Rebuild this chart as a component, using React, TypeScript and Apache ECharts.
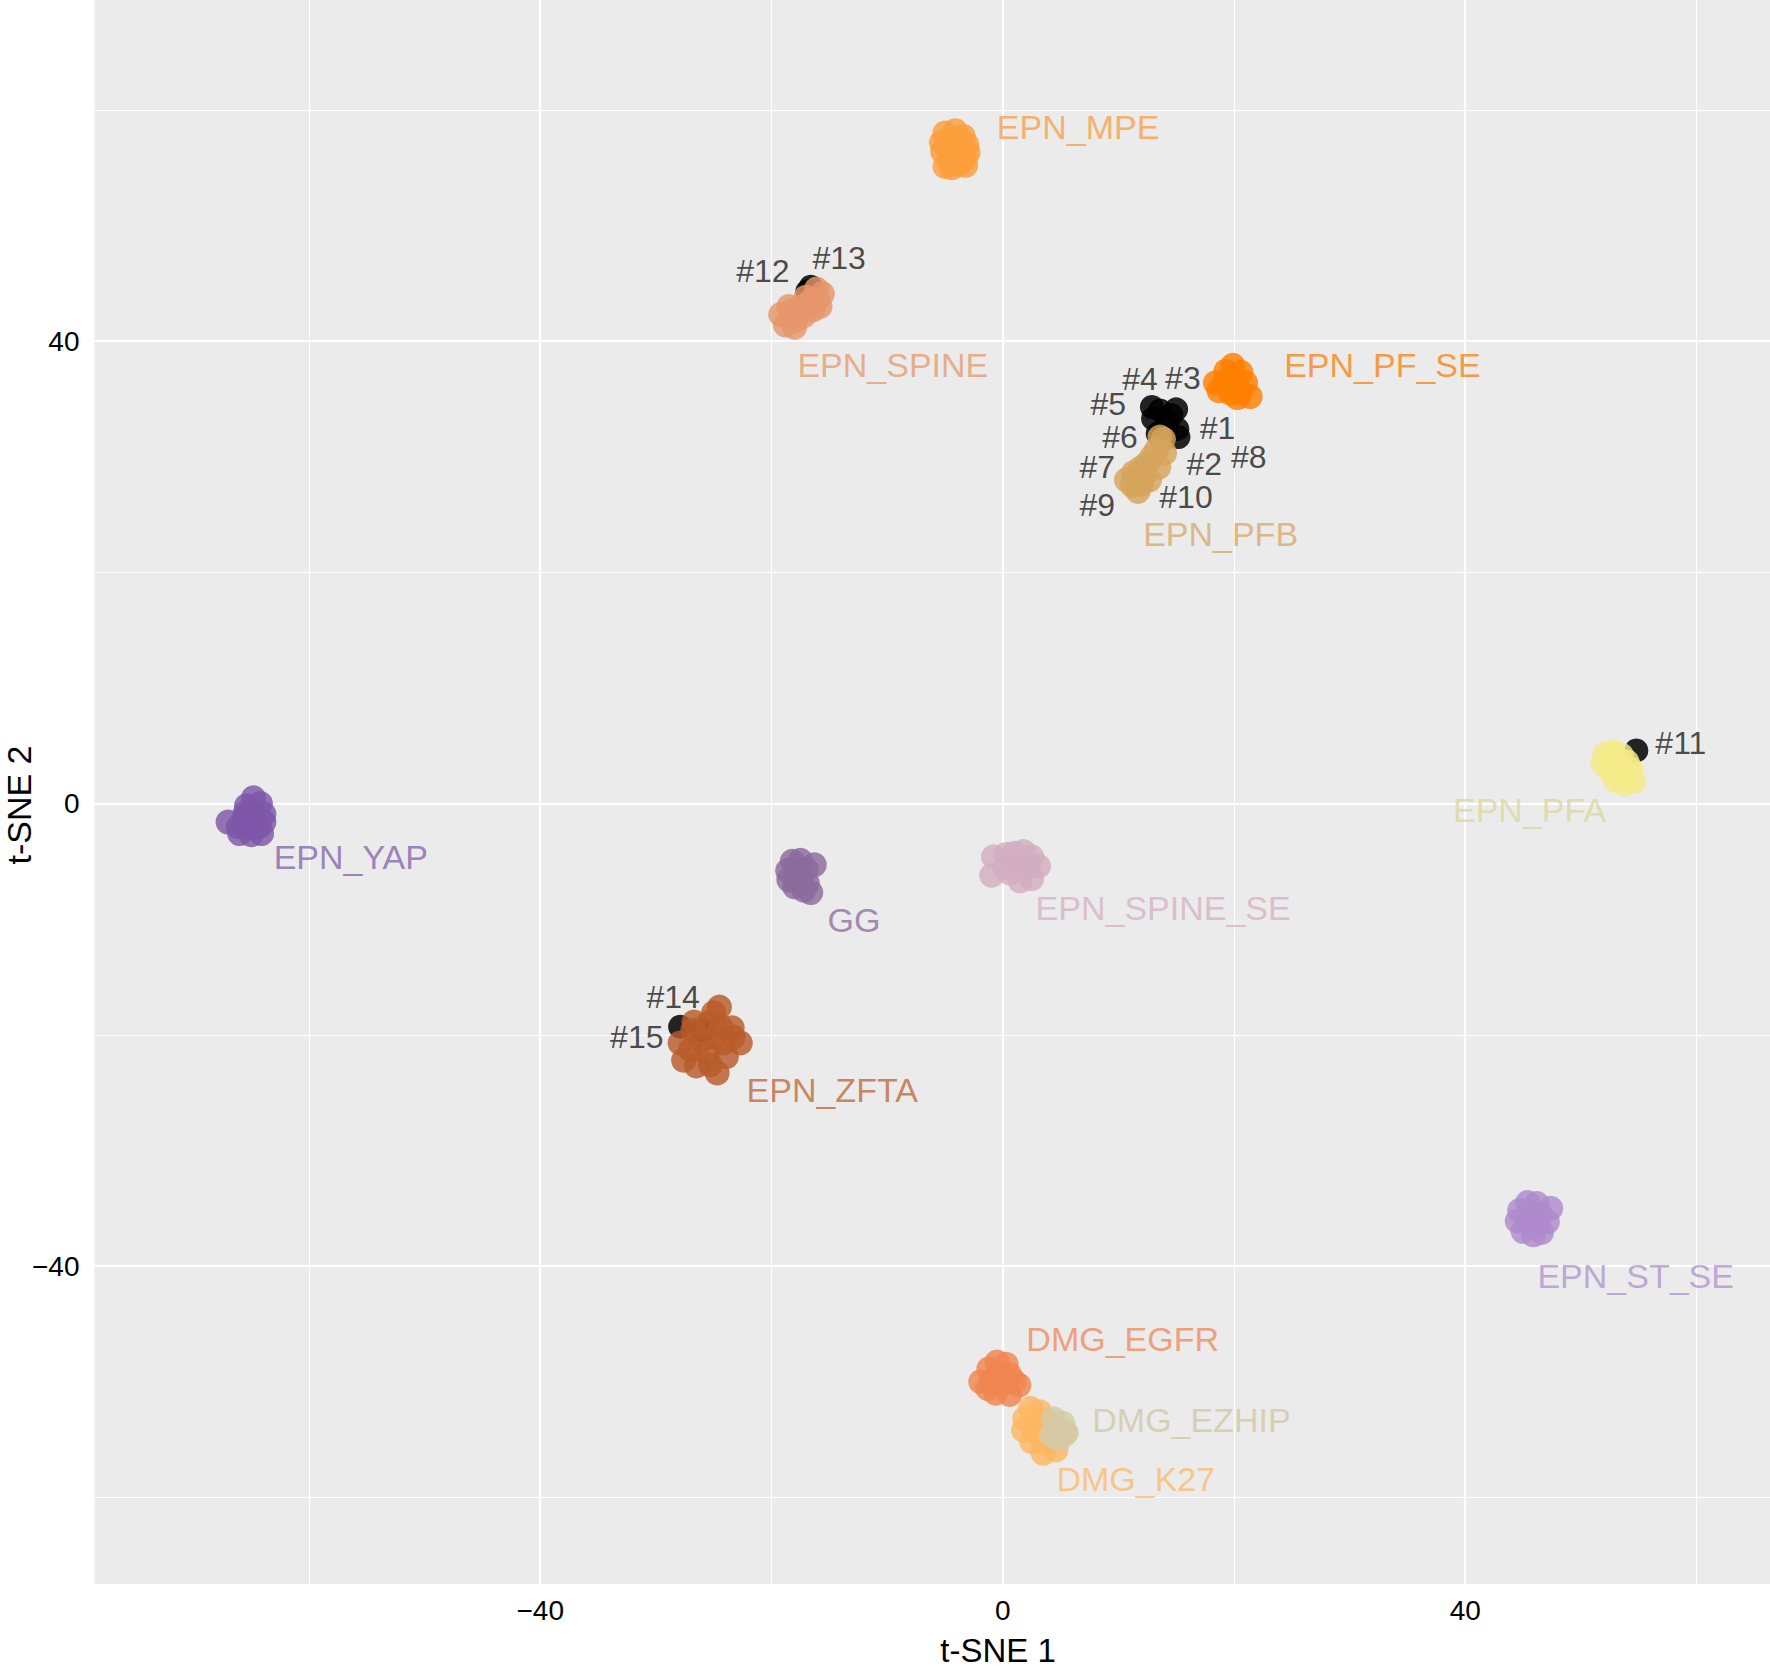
import React, { useEffect, useRef } from "react";
import * as echarts from "echarts";

// ---- axis ticks / gridlines ----
const xMajorTicks = [-40, 0, 40];
const xMinorTicks = [-60, -20, 20, 60];
const yMajorTicks = [-40, 0, 40];
const yMinorTicks = [-60, -20, 20, 60];
const xTitle = "t-SNE 1";
const yTitle = "t-SNE 2";

// ---- cluster samples (t-SNE 1, t-SNE 2) ----
const epnMpe = [
  [-5.0, 58.0], [-4.1, 58.2], [-3.4, 57.7], [-5.3, 57.2], [-4.4, 57.3], [-3.1, 57.0],
  [-3.0, 56.3], [-5.2, 56.4], [-4.0, 56.5], [-3.3, 55.8], [-4.6, 55.8], [-5.0, 55.1],
  [-3.8, 55.3], [-4.4, 55.0], [-3.2, 55.2], [-4.3, 56.1], [-3.7, 57.0],
];
const epnSpine = [
  [-19.2, 42.3], [-18.8, 41.4], [-18.3, 42.6], [-17.9, 41.8], [-17.6, 42.9], [-17.2, 42.2],
  [-16.8, 43.2], [-16.4, 42.7], [-16.0, 43.6], [-15.6, 44.1], [-15.8, 43.0], [-17.0, 43.8],
  [-18.5, 43.0], [-16.1, 44.5], [-18.0, 41.2], [-17.5, 42.5], [-16.6, 43.5],
];
const epnPfSe = [
  [19.9, 37.9], [19.3, 37.4], [20.6, 37.3], [18.4, 36.4], [19.2, 36.5], [20.2, 36.6],
  [21.0, 36.4], [18.7, 35.7], [19.7, 35.5], [20.6, 35.6], [21.4, 35.2], [20.3, 35.1],
  [19.9, 36.0],
];
const epnPfb = [
  [13.6, 31.7], [14.0, 30.3], [13.3, 30.6], [12.45, 29.4], [11.3, 28.6], [10.7, 28.0],
  [11.7, 27.0], [12.7, 28.0], [13.5, 29.1], [13.9, 31.5], [12.0, 27.6], [11.9, 29.0],
  [12.9, 30.0], [11.2, 27.5], [12.3, 28.5],
];
const epnPfa = [
  [52.1, 4.3], [52.8, 4.5], [53.5, 4.2], [51.9, 3.5], [52.7, 3.6], [53.4, 3.4], [54.0, 3.6],
  [52.5, 2.8], [53.3, 2.6], [54.1, 2.5], [54.6, 1.9], [53.8, 1.7], [53.0, 2.0], [54.3, 3.0],
];
const epnYap = [
  [-64.8, 0.5], [-64.2, 0.0], [-65.4, -0.2], [-63.9, -0.9], [-64.7, -1.0], [-65.6, -1.2],
  [-67.0, -1.6], [-66.1, -2.0], [-65.2, -2.1], [-64.3, -2.0], [-63.9, -1.6], [-65.0, -2.7],
  [-64.1, -2.6], [-66.0, -2.6], [-65.5, -0.8], [-65.0, -1.5],
];
const gg = [
  [-18.2, -5.0], [-17.5, -4.9], [-16.3, -5.3], [-18.6, -5.8], [-17.8, -5.9], [-17.0, -5.7],
  [-18.5, -6.6], [-17.6, -6.8], [-16.9, -6.9], [-16.6, -7.7], [-17.2, -7.5], [-18.0, -7.2],
  [-17.4, -6.2],
];
const epnSpineSe = [
  [-0.8, -4.6], [-0.95, -6.2], [0.3, -4.4], [1.0, -4.3], [1.8, -4.15], [2.5, -4.6], [3.1, -5.4],
  [0.2, -5.5], [1.2, -5.3], [2.2, -5.5], [1.5, -6.7], [2.5, -6.5], [0.6, -6.0],
];
const epnZfta = [
  [-24.5, -17.6], [-25.0, -18.1], [-23.4, -19.4], [-22.7, -20.7], [-24.2, -20.7], [-25.0, -20.2],
  [-26.8, -19.6], [-27.9, -20.7], [-27.6, -22.2], [-26.5, -22.7], [-24.7, -23.3], [-23.9, -21.9],
  [-25.6, -21.6], [-27.0, -21.3], [-23.3, -20.2], [-25.5, -19.0], [-26.1, -20.6], [-24.4, -19.3],
  [-25.3, -22.6], [-26.7, -18.9],
];
const epnStSe = [
  [45.4, -34.5], [46.2, -34.6], [44.7, -35.2], [45.6, -35.3], [46.5, -35.5], [47.4, -35.0],
  [44.5, -36.1], [45.4, -36.2], [46.3, -36.3], [47.1, -36.2], [45.0, -37.0], [45.9, -37.3],
  [46.6, -37.1],
];
const dmgEgfr = [
  [-0.5, -48.3], [0.3, -48.5], [-1.2, -48.9], [-0.4, -49.3], [0.6, -49.4], [-1.9, -50.0],
  [-1.0, -50.0], [0.0, -50.2], [1.0, -50.0], [1.4, -50.3], [-0.6, -51.0], [0.6, -51.1],
  [-1.3, -50.6],
];
const dmgK27 = [
  [2.4, -52.3], [3.2, -52.6], [1.9, -53.2], [2.8, -53.4], [3.7, -53.3], [1.8, -54.2],
  [2.7, -54.3], [3.6, -54.4], [4.5, -54.0], [5.4, -54.5], [2.5, -55.2], [3.4, -55.3],
  [4.4, -55.2], [3.5, -56.2], [4.6, -55.9],
];
const dmgEzhip = [
  [4.4, -53.2], [5.2, -53.6], [4.6, -54.3], [5.5, -54.4], [4.9, -55.0], [4.2, -54.6],
];

// highlighted samples #1..#15 (point position)
const highlighted = [
  ["#1", 15.1, 32.4], ["#2", 15.2, 31.7], ["#3", 15.0, 34.1], ["#4", 12.9, 34.3],
  ["#5", 13.6, 34.0], ["#6", 13.4, 32.0], ["#7", 14.0, 31.6], ["#8", 14.6, 33.6],
  ["#9", 13.0, 33.3], ["#10", 14.2, 33.0], ["#11", 54.8, 4.6], ["#12", -16.9, 44.3],
  ["#13", -16.6, 44.7], ["#14", -26.0, -19.6], ["#15", -27.9, -19.3],
];
// text anchors of the highlighted-sample labels (left edge, middle)
const highlightLabelPos = [
  ["#1", 17.0, 32.5], ["#2", 15.85, 29.35], ["#3", 14.0, 36.8], ["#4", 10.3, 36.7],
  ["#5", 7.55, 34.55], ["#6", 8.56, 31.7], ["#7", 6.6, 29.1], ["#8", 19.7, 30.0],
  ["#9", 6.6, 25.8], ["#10", 13.5, 26.55], ["#11", 56.4, 5.2], ["#12", -23.1, 46.1],
  ["#13", -16.5, 47.2], ["#14", -30.85, -16.7], ["#15", -34.0, -20.15],
];

// cluster names, their samples, and label anchors (left edge, middle)
const clusterNames = [
  "EPN_MPE", "EPN_SPINE", "EPN_PF_SE", "EPN_PFB", "EPN_PFA", "EPN_YAP", "GG",
  "EPN_SPINE_SE", "EPN_ZFTA", "EPN_ST_SE", "DMG_EGFR", "DMG_K27", "DMG_EZHIP",
];
const clusterData = [
  epnMpe, epnSpine, epnPfSe, epnPfb, epnPfa, epnYap, gg,
  epnSpineSe, epnZfta, epnStSe, dmgEgfr, dmgK27, dmgEzhip,
];
const clusterLabelPos = [
  [-0.55, 58.5], [-17.8, 37.9], [24.3, 37.9], [12.1, 23.3], [38.9, -0.55], [-63.1, -4.6],
  [-15.2, -10.1], [2.8, -9.0], [-22.2, -24.8], [46.2, -40.9], [2.0, -46.3], [4.6, -58.4],
  [7.7, -53.3],
];

// ---- styles ----
const pointColors = [
  "#FB9E3A", "#E5966A", "#FF7F00", "#D6A55C", "#F4EA89", "#7E57A8", "#8B6A9C",
  "#D3ADC0", "#B85B2A", "#AE8ACC", "#F08550", "#FCB763", "#D6C9A6",
];
const labelColors = [
  "#F9A04A", "#E59C70", "#FA8416", "#D8AA6A", "#DDD79C", "#8966AE", "#8E6FA0",
  "#D6B2C4", "#BE6B3E", "#B195CE", "#F08A5C", "#FBBB6C", "#D3C7A5",
];

const fmt = (v: number) => (v < 0 ? "\u2212" + Math.abs(v) : String(v));
const FONT = "'Liberation Sans', Arial, Helvetica, sans-serif";

export default function App() {
  const ref = useRef<HTMLDivElement>(null);
  useEffect(() => {
    if (!ref.current) return;
    const chart = echarts.init(ref.current, null, { renderer: "svg" });

    const series: any[] = [];
    // gridlines
    series.push({
      type: "scatter",
      name: "grid",
      data: [],
      silent: true,
      markLine: {
        silent: true,
        z: 1,
        symbol: ["none", "none"],
        label: { show: false },
        emphasis: { disabled: true },
        animation: false,
        data: [
          ...xMinorTicks.map((v) => ({ xAxis: v, lineStyle: { color: "#FFFFFF", width: 1.1, type: "solid" } })),
          ...yMinorTicks.map((v) => ({ yAxis: v, lineStyle: { color: "#FFFFFF", width: 1.1, type: "solid" } })),
          ...xMajorTicks.map((v) => ({ xAxis: v, lineStyle: { color: "#FFFFFF", width: 2.2, type: "solid" } })),
          ...yMajorTicks.map((v) => ({ yAxis: v, lineStyle: { color: "#FFFFFF", width: 2.2, type: "solid" } })),
        ],
      },
    });
    // highlighted samples drawn first (beneath clusters)
    series.push({
      type: "scatter",
      name: "highlighted",
      silent: true,
      symbolSize: 24,
      itemStyle: { color: "#000000", opacity: 0.85 },
      data: highlighted.map((h) => [h[1], h[2]]),
    });
    clusterData.forEach((pts, i) => {
      series.push({
        type: "scatter",
        name: clusterNames[i],
        silent: true,
        symbolSize: 25,
        itemStyle: { color: pointColors[i], opacity: 0.82 },
        data: pts,
      });
    });
    // cluster labels
    series.push({
      type: "scatter",
      name: "clusterLabels",
      silent: true,
      symbolSize: 1,
      itemStyle: { color: "transparent" },
      z: 5,
      data: clusterNames.map((n, i) => ({
        name: n,
        value: clusterLabelPos[i],
        label: {
          show: true,
          formatter: n,
          position: "right",
          distance: 0,
          color: labelColors[i],
          fontSize: 34,
          lineHeight: 30,
          fontFamily: FONT,
        },
      })),
    });
    // highlighted labels
    series.push({
      type: "scatter",
      name: "highlightLabels",
      silent: true,
      symbolSize: 1,
      itemStyle: { color: "transparent" },
      z: 5,
      data: highlightLabelPos.map((h) => ({
        name: h[0],
        value: [h[1], h[2]],
        label: {
          show: true,
          formatter: h[0] as string,
          position: "right",
          distance: 0,
          color: "#1E1E1E",
          fontSize: 32,
          lineHeight: 26,
          fontFamily: FONT,
        },
      })),
    });

    chart.setOption({
      animation: false,
      backgroundColor: "#FFFFFF",
      grid: {
        left: 94.5,
        right: 0,
        top: 0,
        bottom: 86,
        show: true,
        backgroundColor: "#EBEBEB",
        borderWidth: 0,
      },
      xAxis: {
        type: "value",
        min: -78.55,
        max: 66.36,
        axisLine: { show: false },
        splitLine: { show: false },
        minorSplitLine: { show: false },
        axisTick: {
          show: true,
          length: 7,
          lineStyle: { color: "#333333", width: 1.6 },
          customValues: xMajorTicks,
        },
        axisLabel: {
          show: true,
          customValues: xMajorTicks,
          formatter: fmt,
          fontSize: 28,
          fontFamily: FONT,
          color: "#000000",
          margin: 12,
        },
      },
      yAxis: {
        type: "value",
        min: -67.5,
        max: 69.5,
        axisLine: { show: false },
        splitLine: { show: false },
        minorSplitLine: { show: false },
        axisTick: {
          show: true,
          length: 7,
          lineStyle: { color: "#333333", width: 1.6 },
          customValues: yMajorTicks,
        },
        axisLabel: {
          show: true,
          customValues: yMajorTicks,
          formatter: fmt,
          fontSize: 28,
          fontFamily: FONT,
          color: "#000000",
          margin: 15,
        },
      },
      graphic: [
        {
          type: "text",
          x: 998,
          y: 1650,
          style: {
            text: xTitle,
            fontSize: 33,
            lineHeight: 30,
            fontFamily: FONT,
            fill: "#000000",
            textAlign: "center",
            textVerticalAlign: "middle",
          },
        },
        {
          type: "text",
          x: 19,
          y: 805,
          rotation: Math.PI / 2,
          style: {
            text: yTitle,
            fontSize: 34,
            fontFamily: FONT,
            fill: "#000000",
            textAlign: "center",
            textVerticalAlign: "middle",
          },
        },
      ],
      series,
    });
    return () => chart.dispose();
  }, []);
  return (
    <div
      ref={ref}
      style={{ position: "absolute", left: 0, top: 0, width: 1770, height: 1670 }}
    />
  );
}
